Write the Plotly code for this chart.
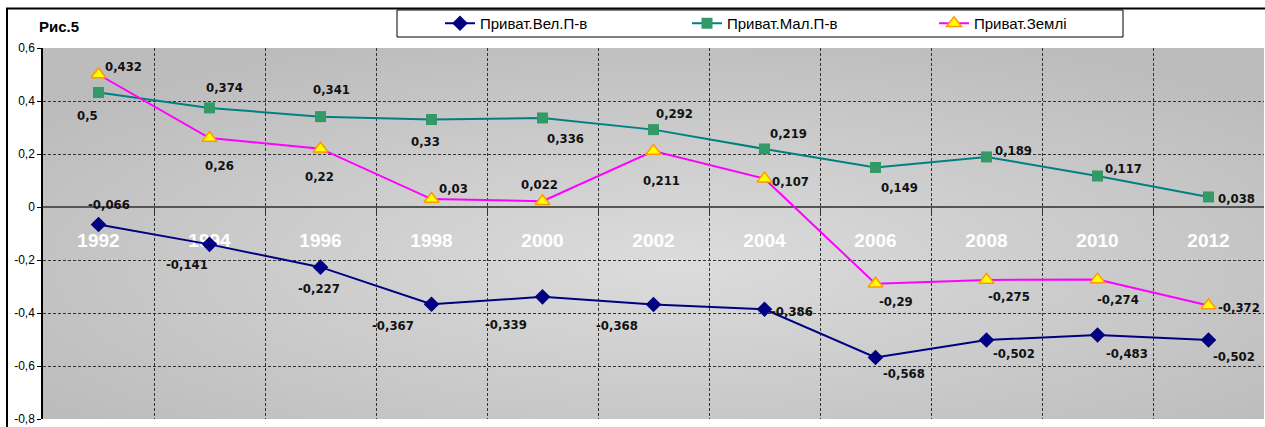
import base64
import plotly.graph_objects as go

years = [1992, 1994, 1996, 1998, 2000, 2002, 2004, 2006, 2008, 2010, 2012]
year_labels = [str(y) for y in years]

big_name = "Приват.Вел.П-в"
big_vals = [-0.066, -0.141, -0.227, -0.367, -0.339, -0.368, -0.386, -0.568, -0.502, -0.483, -0.502]
big_text = ["-0,066", "-0,141", "-0,227", "-0,367", "-0,339", "-0,368", "-0,386", "-0,568", "-0,502", "-0,483", "-0,502"]

small_name = "Приват.Мал.П-в"
small_vals = [0.432, 0.374, 0.341, 0.33, 0.336, 0.292, 0.219, 0.149, 0.189, 0.117, 0.038]
small_text = ["0,5", "0,374", "0,341", "0,33", "0,336", "0,292", "0,219", "0,149", "0,189", "0,117", "0,038"]

land_name = "Приват.Землі"
land_vals = [0.5, 0.26, 0.22, 0.03, 0.022, 0.211, 0.107, -0.29, -0.275, -0.274, -0.372]
land_text = ["0,432", "0,26", "0,22", "0,03", "0,022", "0,211", "0,107", "-0,29", "-0,275", "-0,274", "-0,372"]

y_ticks = [0.6, 0.4, 0.2, 0, -0.2, -0.4, -0.6, -0.8]
y_tick_text = ["0,6", "0,4", "0,2", "0", "-0,2", "-0,4", "-0,6", "-0,8"]

# label offsets (px) relative to markers: (dx, dy down)
big_off = [(10, -20), (-23, 20), (-2, 21), (-39, 21), (-37, 28), (-37, 21), (27, 2), (28, 16), (27, 13), (29, 18), (25, 16)]
small_off = [(-11, 23), (15, -20), (11, -27), (-6, 22), (23, 21), (21, -16), (24, -15), (24, 20), (27, -6), (26, -8), (28, 2)]
land_off = [(25, -8), (10, 27), (-1, 28), (22, -11), (-3, -17), (8, 29), (26, 3), (20, 18), (22, 17), (20, 20), (30, 2)]

W, H = 1265, 427
ML, MR, MT, MB = 43, 1, 48, 8
PW, PH = W - ML - MR, H - MT - MB

LABEL_FONT = "DejaVu Sans Condensed, DejaVu Sans, sans-serif"


def px_x(p):
    return (p - ML) / PW


def px_y(p):
    return (H - MB - p) / PH


fig = go.Figure()
fig.add_trace(go.Scatter(
    x=years, y=big_vals, name=big_name, mode="lines+markers",
    line=dict(color="#000080", width=2),
    marker=dict(symbol="diamond", size=12, color="#000080"),
))
fig.add_trace(go.Scatter(
    x=years, y=small_vals, name=small_name, mode="lines+markers",
    line=dict(color="#008080", width=2),
    marker=dict(symbol="square", size=11, color="#339966"),
))
fig.add_trace(go.Scatter(
    x=years, y=land_vals, name=land_name, mode="lines+markers",
    line=dict(color="#ff00ff", width=2),
    marker=dict(symbol="triangle-up", size=13, color="#ffff00",
                line=dict(color="#ff9900", width=1.5)),
))

annotations = []
for vals, texts, offs in [(big_vals, big_text, big_off), (small_vals, small_text, small_off),
                          (land_vals, land_text, land_off)]:
    for x, v, t, (dx, dy) in zip(years, vals, texts, offs):
        annotations.append(dict(
            x=x, y=v, xref="x", yref="y", text=t, showarrow=False,
            xshift=dx, yshift=-dy, xanchor="center", yanchor="middle",
            font=dict(family=LABEL_FONT, size=13, color="#111111", weight="bold"),
        ))

annotations.append(dict(
    x=px_x(37), y=px_y(26), xref="paper", yref="paper", text="<b>Рис.5</b>",
    showarrow=False, xanchor="left", yanchor="middle",
    font=dict(family="Liberation Sans", size=15, color="#000000"),
))

svg = ("<svg xmlns='http://www.w3.org/2000/svg' width='200' height='100' preserveAspectRatio='none' "
       "viewBox='0 0 200 100'><defs><radialGradient id='g' cx='52%' cy='58%' r='65%'>"
       "<stop offset='0' stop-color='#dcdcdc'/><stop offset='1' stop-color='#bcbcbc'/>"
       "</radialGradient></defs><rect width='200' height='100' fill='url(#g)'/></svg>")
src = "data:image/svg+xml;base64," + base64.b64encode(svg.encode()).decode()

shapes = [
    dict(type="rect", xref="paper", yref="paper", x0=px_x(7), x1=px_x(1290), y0=px_y(440), y1=px_y(8.5),
         line=dict(color="#000000", width=2), fillcolor="rgba(0,0,0,0)", layer="below"),
    dict(type="rect", xref="paper", yref="paper", x0=px_x(397), x1=px_x(1123), y0=px_y(37), y1=px_y(10),
         line=dict(color="#000000", width=1), fillcolor="#ffffff", layer="below"),
]

ymin, ymax = -0.8, 0.6
boundaries = [y + 1 for y in years[:-1]]

fig.update_layout(
    width=W, height=H,
    margin=dict(l=ML, r=MR, t=MT, b=MB, pad=0),
    paper_bgcolor="#ffffff",
    plot_bgcolor="rgba(0,0,0,0)",
    images=[dict(source=src, xref="paper", yref="paper", x=0, y=1, sizex=1, sizey=1,
                 sizing="stretch", xanchor="left", yanchor="top", layer="below")],
    shapes=shapes,
    annotations=annotations,
    showlegend=True,
    legend=dict(orientation="h", x=px_x(440), y=px_y(23.5), xanchor="left", yanchor="middle",
                bgcolor="rgba(0,0,0,0)", borderwidth=0,
                entrywidth=202, entrywidthmode="pixels",
                font=dict(family="Liberation Sans", size=15, color="#000000")),
    xaxis=dict(
        range=[1991, 2013], anchor="free", position=(0 - ymin) / (ymax - ymin),
        tickvals=years, ticktext=year_labels, ticks="", showgrid=False,
        showline=True, linecolor="#555555", linewidth=1.5,
        tickfont=dict(family="Liberation Sans", size=19, color="#ffffff", weight="bold"),
        ticklabelstandoff=16, layer="below traces", zeroline=False,
        minor=dict(tickvals=boundaries, ticks="outside", ticklen=5, tickcolor="#333333",
                   showgrid=True, gridcolor="#333333", gridwidth=1, griddash="3px,2px"),
    ),
    yaxis=dict(
        range=[ymin, ymax], tickvals=y_ticks, ticktext=y_tick_text,
        showgrid=True, gridcolor="#333333", gridwidth=1, griddash="3px,2px",
        zeroline=False, showline=True, linecolor="#000000", linewidth=1.5,
        ticks="outside", ticklen=4, tickcolor="#000000",
        tickfont=dict(family="Liberation Sans", size=12, color="#000000"),
    ),
)

fig.write_html("out.html", config={"displayModeBar": False},
               post_script="document.body.style.margin='0';document.body.style.overflow='hidden';")
